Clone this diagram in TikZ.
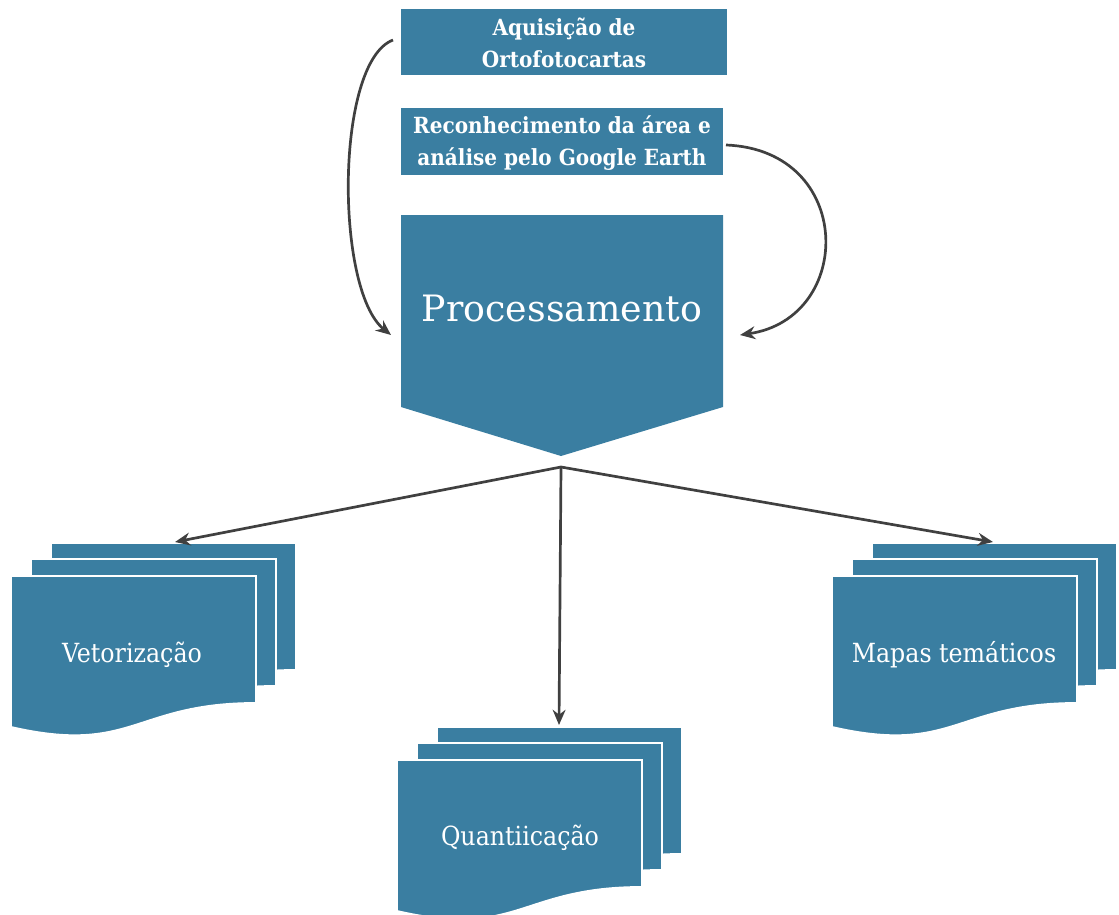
\documentclass[tikz,border=0pt]{standalone}
\usepackage{fontspec}
\setmainfont{DejaVu Serif}
\newfontfamily\condfont{DejaVu Serif Condensed}
\usetikzlibrary{arrows.meta,calc}
\definecolor{steel}{RGB}{58,126,161}
\definecolor{arrowgray}{RGB}{64,64,64}
\newcommand\docsheet[2]{%
  \fill[steel,draw=white,line width=1.6pt] (#1,#2) -- ++(245,0) -- ++(0,127)
    .. controls ++(-122,0) and ($(#1,#2)+(122,179)$) .. ($(#1,#2)+(0,151)$) -- cycle;}
\tikzset{
  boxtext/.style={text=white,font=\condfont\bfseries\fontsize{19}{27.5}\selectfont,align=center},
  doctext/.style={text=white,font=\condfont\fontsize{22.5}{26}\selectfont},
  conn/.style={arrowgray,line width=2.3pt,-{Stealth[length=13pt,width=11pt]}}
}
\begin{document}
\begin{tikzpicture}[x=0.03cm,y=-0.03cm]
\useasboundingbox (0,0) rectangle (1119,914);
% top boxes
\fill[steel] (401,9) rectangle (727,75);
\node[boxtext] (b1) at (564,43) {Aquisição de\\Ortofotocartas};
\fill[steel] (401,108) rectangle (723,175);
\node[boxtext] (b2) at (562,143) {Reconhecimento da área e\\análise pelo Google Earth};
% processamento
\fill[steel] (401,215) -- (723,215) -- (723,407) -- (561,456) -- (401,407) -- cycle;
\node[text=white,font=\fontsize{31}{34}\selectfont] (proc) at (562,309) {Processamento};
\coordinate (b1w) at (393,40);
\coordinate (b2e) at (726,145);
\coordinate (procw) at (391,335);
\coordinate (proce) at (740,335);
\coordinate (tip) at (561,467);
% curved arrows
\draw[conn] (b1w) .. controls (335,62) and (335,290) .. (procw);
\draw[conn] (b2e) .. controls (855,150) and (855,318) .. (proce);
% documents
\docsheet{51}{543}\docsheet{31}{559}\docsheet{11}{576}
\docsheet{437}{727}\docsheet{417}{743}\docsheet{397}{760}
\docsheet{872}{543}\docsheet{852}{559}\docsheet{832}{576}
\node[doctext] (vet) at (132,655) {Vetorização};
\node[doctext] (qua) at (520,838) {Quantiicação};
\node[doctext] (map) at (954,655) {Mapas temáticos};
\coordinate (vtop) at (175,542);
\coordinate (qtop) at (559,725);
\coordinate (mtop) at (993,542);
\draw[conn] (tip) -- (vtop);
\draw[conn] (tip) -- (qtop);
\draw[conn] (tip) -- (mtop);
\end{tikzpicture}
\end{document}
